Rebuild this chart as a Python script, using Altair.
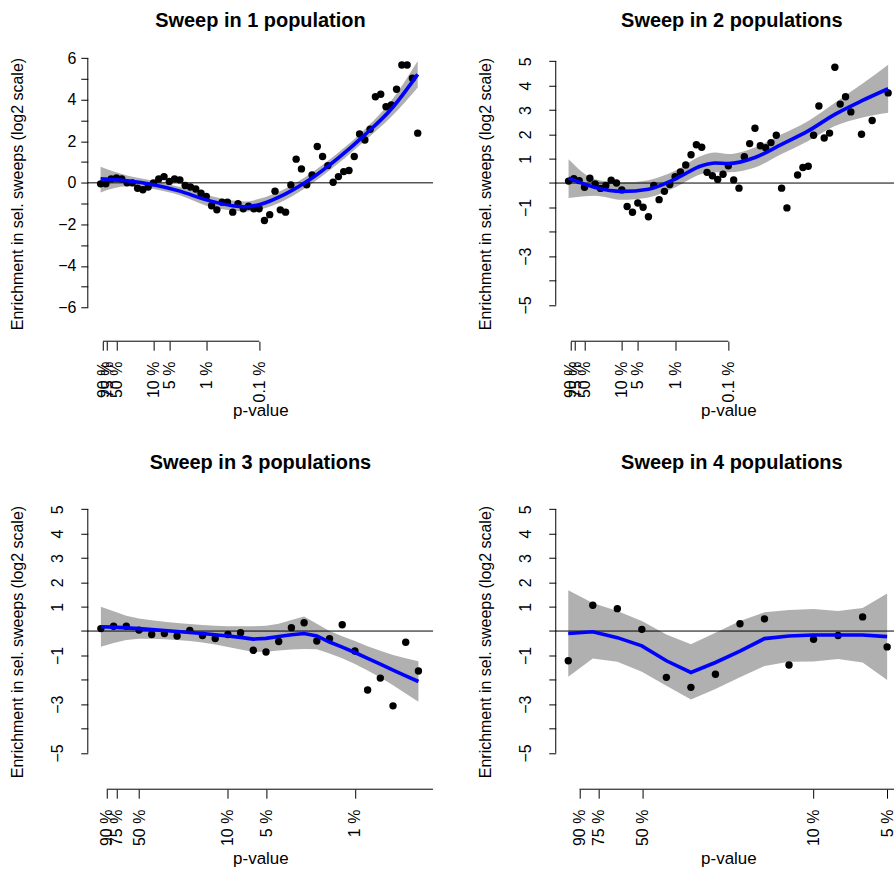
import math
import altair as alt
import pandas as pd

FONT = "Liberation Sans"

# ---------------- data ----------------
P_LABELS = ["90 %", "75 %", "50 %", "10 %", "5 %", "1 %", "0.1 %"]
P_VALUES = [0.9, 0.75, 0.5, 0.1, 0.05, 0.01, 0.001]

# panel 1: sweep in 1 population
p1_x = [0.0, 0.1, 0.2, 0.3, 0.4, 0.5, 0.6, 0.7, 0.8, 0.9, 1.0, 1.1, 1.2, 1.3, 1.4, 1.5,
        1.6, 1.7, 1.8, 1.9, 2.0, 2.1, 2.2, 2.3, 2.4, 2.5, 2.6, 2.7, 2.8, 2.9, 3.0, 3.1,
        3.2, 3.3, 3.4, 3.5, 3.6, 3.7, 3.8, 3.9, 4.0, 4.1, 4.2, 4.3, 4.4, 4.5, 4.6, 4.7,
        4.8, 4.9, 5.0, 5.1, 5.2, 5.3, 5.4, 5.5, 5.6, 5.7, 5.8, 5.9, 6.0]
p1_y = [-0.05, -0.05, 0.19, 0.23, 0.19, 0.0, 0.0, -0.26, -0.33, -0.2, 0.0, 0.19, 0.3,
        0.07, 0.19, 0.14, -0.13, -0.2, -0.3, -0.5, -0.66, -1.1, -1.3, -0.93, -0.93,
        -1.41, -1.0, -1.25, -1.13, -1.25, -1.25, -1.81, -1.53, -0.4, -1.3, -1.41, -0.1,
        1.14, 0.67, -0.09, 0.38, 1.75, 1.27, 0.83, 0.03, 0.3, 0.54, 0.59, 1.27, 2.35,
        2.06, 2.58, 4.14, 4.26, 3.66, 3.75, 4.5, 5.67, 5.67, 5.03, 2.39]
p1_fx = [0.0, 0.5, 1.0, 1.5, 2.0, 2.5, 2.75, 3.0, 3.5, 4.0, 4.5, 5.0, 5.5, 6.0]
p1_fit = [0.19, 0.1, -0.09, -0.4, -0.82, -1.1, -1.15, -1.05, -0.53, 0.23, 1.2, 2.31, 3.55, 5.22]
p1_hi = [0.77, 0.35, 0.1, -0.2, -0.57, -0.85, -0.9, -0.77, -0.27, 0.5, 1.46, 2.58, 3.95, 5.86]
p1_lo = [-0.46, -0.17, -0.3, -0.6, -1.1, -1.33, -1.38, -1.3, -0.82, -0.03, 0.94, 2.03, 3.18, 4.59]

# panel 2: sweep in 2 populations
p2_x = [0.0, 0.1, 0.2, 0.3, 0.4, 0.5, 0.6, 0.7, 0.8, 0.9, 1.0, 1.1, 1.2, 1.3, 1.4, 1.5,
        1.6, 1.7, 1.8, 1.9, 2.0, 2.1, 2.2, 2.3, 2.4, 2.5, 2.6, 2.7, 2.8, 2.9, 3.0, 3.1,
        3.2, 3.3, 3.4, 3.5, 3.6, 3.7, 3.8, 3.9, 4.0, 4.1, 4.3, 4.4, 4.5, 4.6, 4.7, 4.8,
        4.9, 5.0, 5.1, 5.2, 5.3, 5.5, 5.7, 6.0]
p2_y = [0.08, 0.18, 0.1, -0.17, 0.2, -0.04, -0.22, -0.1, 0.12, 0.0, -0.28, -0.96, -1.2,
        -0.82, -0.99, -1.38, -0.1, -0.68, -0.34, -0.06, 0.26, 0.46, 0.74, 1.16, 1.57,
        1.47, 0.44, 0.3, 0.15, 0.36, 0.71, 0.13, -0.21, 1.08, 1.62, 2.25, 1.53, 1.45,
        1.66, 1.96, -0.21, -1.02, 0.33, 0.64, 0.69, 1.96, 3.16, 1.85, 2.05, 4.75, 3.24,
        3.54, 2.92, 2.0, 2.57, 3.7]
p2_fx = [0.0, 0.5, 1.0, 1.5, 2.0, 2.5, 2.75, 3.0, 3.5, 4.0, 4.5, 5.0, 5.5, 6.0]
p2_fit = [0.2, -0.18, -0.34, -0.25, 0.16, 0.71, 0.82, 0.8, 1.05, 1.59, 2.14, 2.82, 3.37, 3.87]
p2_hi = [0.98, 0.16, 0.03, 0.12, 0.5, 1.12, 1.25, 1.19, 1.46, 2.0, 2.55, 3.3, 4.05, 4.86]
p2_lo = [-0.61, -0.52, -0.69, -0.59, -0.18, 0.37, 0.44, 0.44, 0.64, 1.19, 1.73, 2.34, 2.68, 2.89]

# panel 3: sweep in 3 populations
p3_x = [0.0, 0.1, 0.2, 0.3, 0.4, 0.5, 0.6, 0.7, 0.8, 0.9, 1.0, 1.1, 1.2, 1.3, 1.4, 1.5,
        1.6, 1.7, 1.8, 1.9, 2.0, 2.1, 2.2, 2.3, 2.4, 2.5]
p3_y = [0.1, 0.2, 0.2, 0.04, -0.14, -0.1, -0.2, 0.03, -0.18, -0.31, -0.14, -0.07, -0.79,
        -0.86, -0.43, 0.14, 0.34, -0.41, -0.31, 0.26, -0.82, -2.42, -1.93, -3.07, -0.46,
        -1.64]
p3_fit = [0.18, 0.16, 0.13, 0.1, 0.06, 0.02, -0.02, -0.06, -0.1, -0.15, -0.2, -0.26,
          -0.33, -0.3, -0.22, -0.15, -0.1, -0.2, -0.45, -0.66, -0.88, -1.12, -1.36, -1.6,
          -1.84, -2.07]
p3_hi = [1.0, 0.81, 0.63, 0.52, 0.44, 0.38, 0.33, 0.29, 0.25, 0.22, 0.2, 0.2, 0.2, 0.22,
         0.3, 0.45, 0.6, 0.3, 0.0, -0.21, -0.41, -0.62, -0.81, -0.98, -1.12, -1.24]
p3_lo = [-0.64, -0.49, -0.37, -0.32, -0.32, -0.34, -0.37, -0.41, -0.47, -0.55, -0.65,
         -0.76, -0.86, -0.85, -0.8, -0.76, -0.74, -0.75, -0.92, -1.12, -1.35, -1.62, -1.91,
         -2.22, -2.56, -2.9]

# panel 4: sweep in 4 populations
p4_x = [0.0, 0.1, 0.2, 0.3, 0.4, 0.5, 0.6, 0.7, 0.8, 0.9, 1.0, 1.1, 1.2, 1.3]
p4_y = [-1.22, 1.06, 0.92, 0.07, -1.9, -2.31, -1.77, 0.3, 0.5, -1.39, -0.34, -0.18, 0.58, -0.65]
p4_fit = [-0.1, -0.03, -0.27, -0.61, -1.22, -1.7, -1.29, -0.82, -0.31, -0.2, -0.16, -0.16, -0.16, -0.23]
p4_hi = [1.67, 1.15, 0.82, 0.41, -0.14, -0.54, -0.07, 0.41, 0.77, 0.86, 0.91, 0.82, 0.95, 1.54]
p4_lo = [-1.88, -1.13, -1.26, -1.67, -2.24, -2.81, -2.38, -1.9, -1.43, -1.26, -1.25, -1.15, -1.29, -2.01]

Y_TITLE = "Enrichment in sel. sweeps (log2 scale)"
H = 296


def panel(title, px, py, fx, fit, lo, hi, xdom, ydom, yticks, ylabels, rotate_y,
          width, n_pticks, interp, title_y, title_dx=0.0, anchor=False):
    pvals = P_VALUES[:n_pticks]
    plabs = P_LABELS[:n_pticks]
    xt = [-math.log10(p) for p in pvals]
    all_xt = [-math.log10(p) for p in P_VALUES]
    expr = ""
    for v, l in zip(xt, plabs):
        expr += f"abs(datum.value - {v:.6f}) < 0.0001 ? '{l}' : "
    expr += "''"
    ylab = "[" + ",".join(str(v) for v in ylabels) + "]"
    xscale = alt.Scale(domain=xdom, nice=False, zero=False)
    yscale = alt.Scale(domain=ydom, nice=False, zero=False)
    xaxis = alt.Axis(values=xt, labelExpr=expr, labelAngle=270, labelAlign="right",
                     labelBaseline="middle", domain=False, grid=False, tickSize=9,
                     tickColor="black", tickWidth=1, labelColor="black", labelFont=FONT,
                     labelFontSize=16, labelPadding=11, labelOverlap=False,
                     labelFlush=False, labelBound=False,
                     title="p-value", titleFont=FONT, titleFontSize=17,
                     titleFontWeight="normal", titleColor="black", titleX=173,
                     titleY=69, titleBaseline="middle", titleAlign="center")
    yaxis_kw = dict(values=yticks,
                    labelExpr=f"indexof({ylab}, datum.value) >= 0 ? datum.label : ''",
                    domain=False, grid=False, tickSize=7, tickColor="black", tickWidth=1,
                    labelColor="black", labelFont=FONT, labelFontSize=16,
                    labelOverlap=False, labelFlush=False, labelBound=False,
                    title=Y_TITLE, titleFont=FONT, titleFontSize=16,
                    titleFontWeight="normal", titleColor="black", titleX=-70,
                    titleY=H / 2, titleAngle=270, titleBaseline="middle",
                    titleAlign="center")
    if rotate_y:
        yaxis_kw.update(labelAngle=270, labelAlign="center", labelBaseline="bottom",
                        labelPadding=15)
    else:
        yaxis_kw.update(labelAngle=0, labelAlign="right", labelBaseline="middle",
                        labelPadding=5)
    yaxis = alt.Axis(**yaxis_kw)

    X = lambda f: alt.X(f, type="quantitative", scale=xscale, axis=xaxis, title="p-value")
    Y = lambda f: alt.Y(f, type="quantitative", scale=yscale, axis=yaxis, title=Y_TITLE)

    pts = pd.DataFrame({"x": px, "y": py})
    fitdf = pd.DataFrame({"x": fx, "fit": fit, "lo": lo, "hi": hi})
    zero = pd.DataFrame({"y": [0.0]})
    # axis line runs from the first to the last p-value tick, clipped to the plot
    xline = pd.DataFrame({"x": [all_xt[0]], "x2": [min(all_xt[-1], xdom[1])]})
    yline = pd.DataFrame({"y": [min(yticks)], "y2": [max(yticks)]})
    tdf = pd.DataFrame({"t": [title]})

    band = alt.Chart(fitdf).mark_area(color="#b0b0b0", opacity=1, interpolate=interp).encode(
        x=X("x"), y=Y("lo"), y2="hi")
    zline = alt.Chart(zero).mark_rule(color="black", strokeWidth=1).encode(y=Y("y"))
    dots = alt.Chart(pts).mark_circle(color="black", size=55, opacity=1).encode(
        x=X("x"), y=Y("y"))
    line = alt.Chart(fitdf).mark_line(color="#0000ff", strokeWidth=3.6,
                                      interpolate=interp).encode(x=X("x"), y=Y("fit"))
    xdomain_line = alt.Chart(xline).mark_rule(color="black", strokeWidth=1).encode(
        x=X("x"), x2="x2", y=alt.value(H))
    ydomain_line = alt.Chart(yline).mark_rule(color="black", strokeWidth=1).encode(
        y=Y("y"), y2="y2", x=alt.value(0))
    ttl = alt.Chart(tdf).mark_text(font=FONT, fontSize=20, fontWeight="bold",
                                   color="black", align="center",
                                   baseline="alphabetic").encode(
        text="t:N", x=alt.value(173 + title_dx), y=alt.value(title_y))
    layers = [band, zline, dots, line, xdomain_line, ydomain_line, ttl]
    if anchor:
        layers.append(
            alt.Chart(zero).mark_rule(opacity=0, strokeWidth=0).encode(
                x=alt.value(-88), x2=alt.value(-88), y=alt.value(-45), y2=alt.value(-45)))
    return alt.layer(*layers).properties(width=width, height=H)


c1 = panel("Sweep in 1 population", p1_x, p1_y, p1_fx, p1_fit, p1_lo, p1_hi,
           [-0.242, 6.29], [-7.62, 6.59], list(range(-6, 7)), [-6, -4, -2, 0, 2, 4, 6],
           False, 346, 7, "monotone", -19, anchor=True)
c2 = panel("Sweep in 2 populations", p2_x, p2_y, p2_fx, p2_fit, p2_lo, p2_hi,
           [-0.24, 6.11], [-6.49, 5.63], list(range(-5, 6)), [5, 4, 3, 2, 1, -1, -3, -5],
           True, 339, 7, "monotone", -19, title_dx=3.5)
c3 = panel("Sweep in 3 populations", p3_x, p3_y, p3_x, p3_fit, p3_lo, p3_hi,
           [-0.103, 2.615], [-6.49, 5.63], list(range(-5, 6)), [5, 4, 3, 2, 1, -1, -3, -5],
           True, 346, 6, "linear", -25)
c4 = panel("Sweep in 4 populations", p4_x, p4_y, p4_x, p4_fit, p4_lo, p4_hi,
           [-0.051, 1.328], [-6.49, 5.63], list(range(-5, 6)), [5, 4, 3, 2, 1, -1, -3, -5],
           True, 339, 5, "linear", -25, title_dx=3.5)

chart = alt.concat(c1, c2, c3, c4, columns=2, bounds="flush",
                   spacing=alt.RowColnumber(row=153, column=123)).properties(
    padding=0
).configure(background="white").configure_view(stroke=None)

chart.save("out.html", embed_options={"renderer": "svg", "actions": False})
